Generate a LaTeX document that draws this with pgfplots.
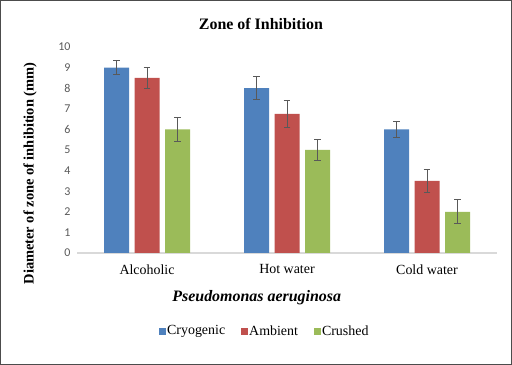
\documentclass[border=0pt]{standalone}
\usepackage{pgfplots}
\pgfplotsset{compat=1.18}
\usepackage{pgfplotstable}
\usepackage{fontspec}
\setmainfont{Liberation Serif}
\newfontfamily\calibri{Carlito}
\definecolor{cblue}{HTML}{4F81BD}
\definecolor{cred}{HTML}{C0504D}
\definecolor{cgreen}{HTML}{9BBB59}
\definecolor{errgray}{HTML}{595959}
\definecolor{axgray}{HTML}{D9D9D9}

\pgfplotstableread{
x y e
0 9.0 0.35
1 8.0 0.55
2 6.0 0.37
}\cryo
\pgfplotstableread{
x y e
0 8.5 0.5
1 6.75 0.65
2 3.5 0.57
}\amb
\pgfplotstableread{
x y e
0 6.0 0.58
1 5.0 0.5
2 2.0 0.58
}\crush

\begin{document}
\begin{tikzpicture}
\useasboundingbox (0,0) rectangle (512bp,365bp);
\draw[black!70, line width=1bp] (0.5bp,0.5bp) rectangle (511.5bp,364.5bp);
\begin{axis}[
  at={(77bp,112bp)}, anchor=south west,
  scale only axis, width=420bp, height=206bp,
  xmin=-0.5, xmax=2.5, ymin=0, ymax=10,
  ybar, bar width=25bp,
  axis x line*=bottom, axis y line*=left,
  x axis line style={axgray, line width=1.2bp},
  y axis line style={draw=none},
  tick style={draw=none},
  xtick={0,1,2},
  xticklabels={Alcoholic,Hot water,Cold water},
  xticklabel style={font=\fontsize{14}{16}\selectfont, text=black, yshift=-4bp},
  ytick={0,1,...,10},
  /pgf/number format/assume math mode=true,
  yticklabel style={font=\calibri\fontsize{12}{14}\selectfont, text=errgray, xshift=-3bp},
  title={Zone of Inhibition},
  title style={font=\bfseries\fontsize{16}{19}\selectfont, at={(axis description cs:0.438,1.0825)}, anchor=center},
  xlabel={Pseudomonas aeruginosa},
  xlabel style={font=\bfseries\itshape\fontsize{16}{19}\selectfont, at={(axis description cs:0.428,-0.218)}, anchor=center},
  ylabel={Diameter of zone of inhibition (mm)},
  ylabel style={font=\bfseries\fontsize{14.5}{17}\selectfont, at={(axis description cs:-0.112,0.386)}, anchor=center},
  legend style={at={(axis description cs:0.446,-0.379)}, anchor=center, draw=none, fill=none,
    legend columns=3, font=\fontsize{14}{16}\selectfont,
    /tikz/every even column/.append style={column sep=14bp},
    nodes={inner sep=1.5bp}},
  legend image code/.code={\fill[#1] (0bp,-3.5bp) rectangle (7bp,3.5bp);},
  error bars/y dir=both, error bars/y explicit,
  error bars/error bar style={errgray, line width=1bp},
  error bars/error mark options={rotate=90, mark size=3.4bp, line width=1bp, errgray},
]
\addplot[fill=cblue, draw=none, bar shift=-30.5bp] table[x=x, y=y, y error=e] {\cryo};
\addplot[fill=cred, draw=none, bar shift=0bp] table[x=x, y=y, y error=e] {\amb};
\addplot[fill=cgreen, draw=none, bar shift=30.5bp] table[x=x, y=y, y error=e] {\crush};
\legend{Cryogenic,Ambient,Crushed}
\end{axis}
\end{tikzpicture}
\end{document}
